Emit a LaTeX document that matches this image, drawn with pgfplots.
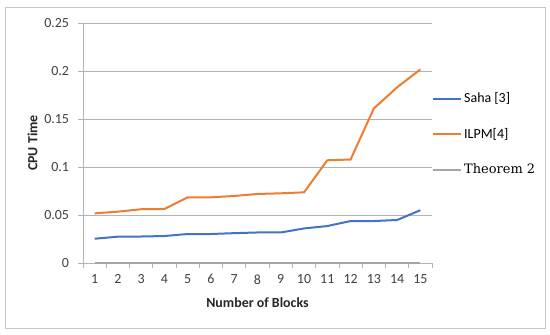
\documentclass[border=0pt]{standalone}
\usepackage{pgfplots}
\pgfplotsset{compat=1.18}
\usepackage{fontspec}
\setmainfont{Carlito}
\newfontfamily\serifleg{DejaVu Serif}
\definecolor{sblue}{HTML}{4472C4}
\definecolor{sorange}{HTML}{ED7D31}
\definecolor{sgray}{HTML}{A5A5A5}
\definecolor{gridc}{HTML}{B3B3B3}
\definecolor{framec}{HTML}{C8C8C8}
\pgfplotsset{
  mylegend/.style={
    legend style={at={(1.0,0.5375)}, anchor=west, draw=none, fill=none,
      inner sep=0pt, row sep=20bp, font=\fontsize{14}{16}\selectfont,
      /tikz/every even column/.append style={column sep=1bp}},
    legend cell align=left,
    legend image code/.code={\draw[##1] (0bp,0bp) -- (28bp,0bp);},
  }
}
\begin{document}
\begin{tikzpicture}[x=1bp,y=1bp]
\path[use as bounding box] (0,0) rectangle (550,334);
\fill[white] (0,0) rectangle (550,334);
\draw[framec, line width=0.8bp] (5,6) rectangle (545,327);
\begin{axis}[
  at={(83bp,71bp)}, anchor=south west,
  scale only axis, width=349bp, height=240bp,
  xmin=0.5, xmax=15.5, ymin=0, ymax=0.25,
  xtick={1,...,15},
  minor xtick={0.5,1.5,...,15.5},
  ytick={0,0.05,...,0.25},
  yticklabels={0,0.05,0.1,0.15,0.2,0.25},
  scaled y ticks=false,
  /pgf/number format/assume math mode=true,
  axis x line*=bottom, axis y line*=left,
  axis line style={gridc, line width=0.8bp, -},
  ymajorgrids, grid style={gridc, line width=0.8bp},
  tick align=outside,
  major x tick style={draw=none},
  minor x tick style={gridc, line width=0.8bp},
  minor tick length=5bp,
  major y tick style={gridc, line width=0.8bp},
  major tick length=5bp,
  tick label style={font=\fontsize{14}{16}\selectfont, text=black!75},
  yticklabel style={xshift=-5.5bp},
  xticklabel style={yshift=-3bp},
  xlabel={\textbf{Number of Blocks}},
  ylabel={\textbf{CPU Time}},
  label style={font=\fontsize{14}{16}\selectfont, text=black!85},
  xlabel style={at={(axis description cs:0.5,0)}, anchor=center, yshift=-40bp},
  ylabel style={at={(axis description cs:0,0.5)}, anchor=center, yshift=50.5bp},
  clip=false,
]
\addplot[sgray, line width=2bp] coordinates {
(1,0) (2,0) (3,0) (4,0) (5,0) (6,0) (7,0) (8,0) (9,0) (10,0) (11,0) (12,0) (13,0) (14,0) (15,0)};
\addplot[sblue, line width=2bp] coordinates {
(1,0.0253) (2,0.0274) (3,0.0276) (4,0.0281) (5,0.0302) (6,0.0302) (7,0.0311) (8,0.0318) (9,0.0318) (10,0.0360) (11,0.0385) (12,0.0437) (13,0.0437) (14,0.0448) (15,0.0550)};
\addplot[sorange, line width=2bp] coordinates {
(1,0.0517) (2,0.0535) (3,0.0560) (4,0.0563) (5,0.0684) (6,0.0684) (7,0.0698) (8,0.0719) (9,0.0726) (10,0.0736) (11,0.1070) (12,0.1078) (13,0.1610) (14,0.1830) (15,0.2017)};
\end{axis}
\begin{axis}[
  at={(83bp,71bp)}, anchor=south west,
  scale only axis, width=349bp, height=240bp,
  xmin=0.5, xmax=15.5, ymin=0, ymax=0.25,
  hide axis, mylegend,
]
\addlegendimage{sblue, line width=2bp}
\addlegendentry{Saha [3]}
\addlegendimage{sorange, line width=2bp}
\addlegendentry{ILPM[4]}
\addlegendimage{sgray, line width=2bp}
\addlegendentry{{\serifleg\fontsize{13}{15}\selectfont Theorem 2}}
\end{axis}
\end{tikzpicture}
\end{document}
